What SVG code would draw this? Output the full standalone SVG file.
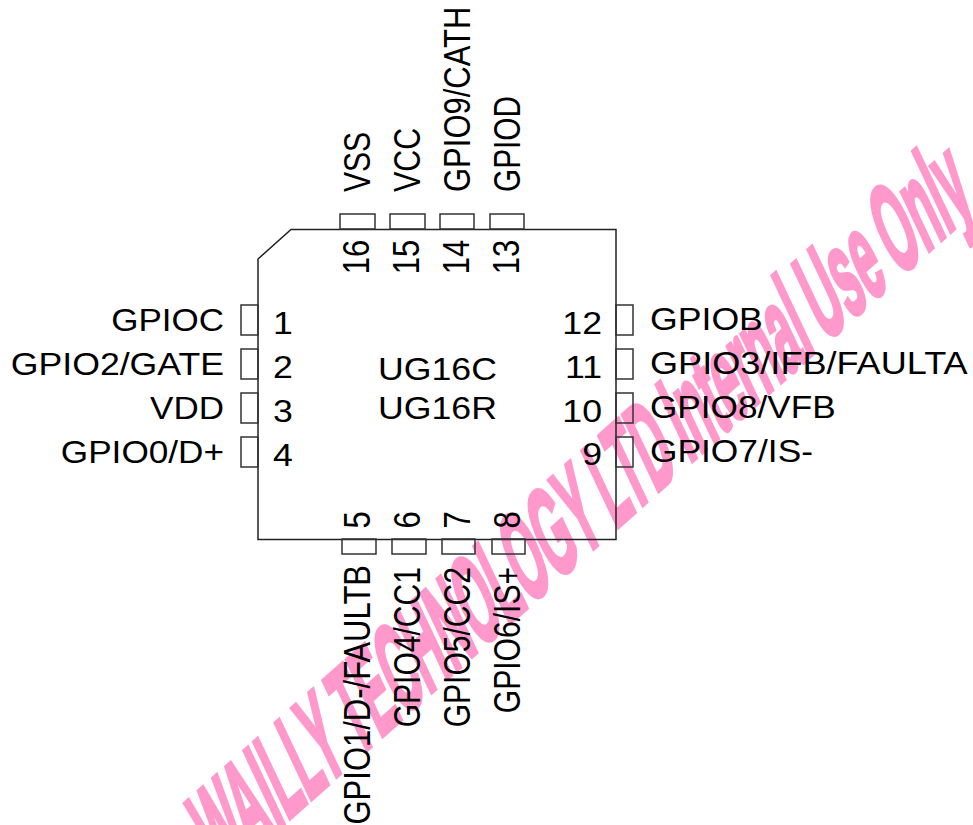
<svg xmlns="http://www.w3.org/2000/svg" width="973" height="825" viewBox="0 0 973 825">
<style>
text{font-family:"Liberation Sans",Arial,sans-serif;font-size:31px;fill:#000}
.p{fill:none;stroke:#333;stroke-width:1.5}
.b{fill:none;stroke:#222;stroke-width:1.5}
.wm{font-size:100px;font-weight:bold;fill:#ff99cc;stroke:#ff99cc;stroke-width:4;word-spacing:-4px}
.e{text-anchor:end}
.m{text-anchor:middle}
</style>
<rect width="973" height="825" fill="#fff"/>
<g id="watermark"><text class="wm" transform="matrix(.748 -.664 .52 1.1 220 880)" textLength="1012" lengthAdjust="spacingAndGlyphs">WAILLY TECHNOLOGY LTD Internal Use Only</text></g>
<g id="body"><path class="b" d="M291 229.500H616V539.500H258V259Z"/>
<text transform="translate(437.500,380) scale(1.15,1)" class="m">UG16C</text><text transform="translate(437.500,419) scale(1.15,1)" class="m">UG16R</text></g>
<g id="pin1"><rect class="p" x="241" y="305" width="17" height="30"/><text transform="translate(283,334) scale(1.15,1)" class="m">1</text><text transform="translate(224,331) scale(1.13,1)" class="e">GPIOC</text></g>
<g id="pin2"><rect class="p" x="241" y="349" width="17" height="30"/><text transform="translate(283,378) scale(1.15,1)" class="m">2</text><text transform="translate(224,375) scale(1.15,1)" class="e">GPIO2/GATE</text></g>
<g id="pin3"><rect class="p" x="241" y="393" width="17" height="30"/><text transform="translate(283,422) scale(1.15,1)" class="m">3</text><text transform="translate(224,419) scale(1.13,1)" class="e">VDD</text></g>
<g id="pin4"><rect class="p" x="241" y="437" width="17" height="30"/><text transform="translate(283,466) scale(1.15,1)" class="m">4</text><text transform="translate(224,463) scale(1.135,1)" class="e">GPIO0/D+</text></g>
<g id="pin5"><rect class="p" x="342" y="539" width="34" height="15"/><text transform="translate(369.500,520) scale(1.2,1) rotate(-90)" class="m">5</text><text transform="translate(369.500,565) scale(1.2,1) rotate(-90)" class="e">GPIO1/D-/FAULTB</text></g>
<g id="pin6"><rect class="p" x="392" y="539" width="34" height="15"/><text transform="translate(419.500,520) scale(1.2,1) rotate(-90)" class="m">6</text><text transform="translate(419.500,567) scale(1.2,.97) rotate(-90)" class="e">GPIO4/CC1</text></g>
<g id="pin7"><rect class="p" x="442" y="539" width="33" height="15"/><text transform="translate(469.500,520) scale(1.2,1) rotate(-90)" class="m">7</text><text transform="translate(469.500,567) scale(1.2,.97) rotate(-90)" class="e">GPIO5/CC2</text></g>
<g id="pin8"><rect class="p" x="492" y="539" width="33" height="15"/><text transform="translate(519.500,520) scale(1.2,1) rotate(-90)" class="m">8</text><text transform="translate(519.500,567) scale(1.2,.97) rotate(-90)" class="e">GPIO6/IS+</text></g>
<g id="pin9"><rect class="p" x="616" y="437" width="17" height="30"/><text transform="translate(602,465) scale(1.15,1)" class="e">9</text><text transform="translate(650,461.500) scale(1.14,1)">GPIO7/IS-</text></g>
<g id="pin10"><rect class="p" x="616" y="393" width="17" height="30"/><text transform="translate(602,422) scale(1.15,1)" class="e">10</text><text transform="translate(650,417.500) scale(1.135,1)">GPIO8/VFB</text></g>
<g id="pin11"><rect class="p" x="616" y="349" width="17" height="30"/><text transform="translate(602,378) scale(1.15,1)" class="e">11</text><text transform="translate(650,373.500) scale(1.165,1)">GPIO3/IFB/FAULTA</text></g>
<g id="pin12"><rect class="p" x="616" y="305" width="17" height="30"/><text transform="translate(602,334) scale(1.15,1)" class="e">12</text><text transform="translate(650,329.500) scale(1.15,1)">GPIOB</text></g>
<g id="pin13"><rect class="p" x="490" y="214" width="34" height="15"/><text transform="translate(519,257) scale(1.2,1) rotate(-90)" class="m">13</text><text transform="translate(519.500,192) scale(1.2,.96) rotate(-90)">GPIOD</text></g>
<g id="pin14"><rect class="p" x="440" y="214" width="34" height="15"/><text transform="translate(469,257) scale(1.2,1) rotate(-90)" class="m">14</text><text transform="translate(469.500,192) scale(1.2,1) rotate(-90)">GPIO9/CATH</text></g>
<g id="pin15"><rect class="p" x="390" y="214" width="35" height="15"/><text transform="translate(419,257) scale(1.2,1) rotate(-90)" class="m">15</text><text transform="translate(419.500,192) scale(1.2,.98) rotate(-90)">VCC</text></g>
<g id="pin16"><rect class="p" x="340" y="214" width="35" height="15"/><text transform="translate(369,257) scale(1.2,1) rotate(-90)" class="m">16</text><text transform="translate(369.500,192) scale(1.2,.97) rotate(-90)">VSS</text></g>
</svg>
